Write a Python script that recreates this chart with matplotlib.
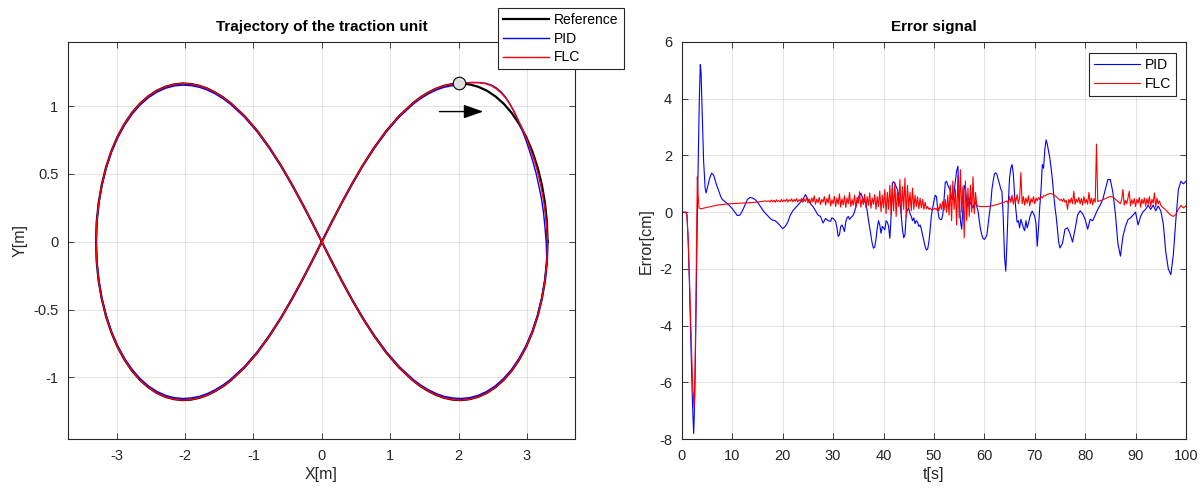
import numpy as np
import matplotlib
matplotlib.use('Agg')
from matplotlib import pyplot as plt

plt.rcParams['font.family'] = ['Liberation Sans', 'DejaVu Sans']
plt.rcParams['axes.unicode_minus'] = False

# ---- trajectory, one quarter of the figure-eight (tip -> centre) ----
ref_qx = [3.300, 3.291, 3.263, 3.217, 3.155, 3.078, 2.988, 2.886, 2.776, 2.659, 2.538, 2.413, 2.286, 2.160,
          2.034, 1.910, 1.789, 1.671, 1.556, 1.444, 1.337, 1.133, 0.943, 0.766, 0.599, 0.442, 0.291, 0.144, 0.000]
ref_qy = [0.000, 0.144, 0.284, 0.420, 0.548, 0.666, 0.773, 0.868, 0.950, 1.018, 1.072, 1.114, 1.143, 1.160,
          1.167, 1.163, 1.150, 1.129, 1.100, 1.065, 1.024, 0.928, 0.817, 0.694, 0.563, 0.427, 0.287, 0.144, 0.000]
# PID runs a little inside the reference
pid_qx = [3.300, 3.290, 3.261, 3.214, 3.151, 3.074, 2.984, 2.882, 2.772, 2.656, 2.535, 2.410, 2.284, 2.158,
          2.033, 1.909, 1.788, 1.670, 1.556, 1.444, 1.337, 1.133, 0.943, 0.766, 0.599, 0.442, 0.291, 0.144, 0.000]
pid_qy = [0.000, 0.143, 0.282, 0.416, 0.543, 0.660, 0.766, 0.860, 0.941, 1.008, 1.062, 1.103, 1.132, 1.149,
          1.155, 1.151, 1.139, 1.118, 1.090, 1.055, 1.015, 0.920, 0.810, 0.688, 0.558, 0.423, 0.284, 0.143, 0.000]

# start transients (start point -> right tip)
pid_start_x = [2.00, 2.10, 2.20, 2.30, 2.40, 2.48, 2.55, 2.62, 2.68, 2.74, 2.80, 2.86, 2.92, 2.98, 3.03,
               3.08, 3.13, 3.17, 3.21, 3.24, 3.26, 3.28]
pid_start_y = [1.170, 1.172, 1.174, 1.174, 1.168, 1.155, 1.135, 1.105, 1.070, 1.025, 0.970, 0.905, 0.835,
               0.755, 0.680, 0.600, 0.510, 0.420, 0.320, 0.220, 0.120, 0.000]
flc_start_x = [2.00, 2.10, 2.20, 2.30, 2.40, 2.48, 2.55, 2.62, 2.68, 2.74, 2.80, 2.86, 2.92, 2.98, 3.04,
               3.10, 3.15, 3.20, 3.24, 3.27, 3.29, 3.30]
flc_start_y = [1.170, 1.172, 1.174, 1.173, 1.165, 1.150, 1.128, 1.098, 1.065, 1.022, 0.970, 0.910, 0.845,
               0.775, 0.695, 0.610, 0.525, 0.420, 0.310, 0.200, 0.100, 0.000]

start_pt = (2.0, 1.17)

# ---- error signal [cm] ----
pid_t0 = [0, 0.8, 1.0, 1.24, 1.5, 1.8, 2.1, 2.33, 2.55, 2.8, 2.98, 3.2, 3.45, 3.64, 3.8, 4.0, 4.3, 4.6,
          4.8, 5.1, 5.5, 5.9, 6.3, 6.8, 7.2, 7.7, 8.0]
pid_e0 = [0, 0, -0.1, -1.0, -2.6, -4.8, -6.8, -7.8, -6.5, -3.5, -1.0, 1.5, 4.0, 5.2, 4.9, 3.6, 1.8, 0.85,
          0.68, 0.9, 1.2, 1.38, 1.3, 1.0, 0.8, 0.55, 0.45]
# t = 8.5 .. 29.5 every 0.5 s
pid_e1 = [0.38, 0.30, 0.22, 0.12, 0.00, -0.12, -0.10, 0.05, 0.25, 0.45, 0.52, 0.50, 0.45, 0.35, 0.22, 0.08,
          -0.03, -0.12, -0.22, -0.28, -0.30, -0.38, -0.48, -0.58, -0.50, -0.35, -0.10, 0.05, 0.15, 0.25, 0.35,
          0.45, 0.62, 0.45, 0.30, 0.20, 0.05, -0.10, -0.15, -0.38, -0.22, -0.30, -0.32]
# t = 29.75 .. 75.0 every 0.25 s
pid_e2 = [-0.20,
          -0.22, -0.27, -0.33, -0.55, -0.85, -0.80, -0.50, -0.45, -0.55, -0.68, -0.35, -0.20,
          -0.15, -0.25, -0.20, -0.15, -0.10, 0.02, 0.20, 0.35, 0.52, 0.60, 0.67, 0.55,
          0.45, 0.38, 0.30, 0.05, -0.27, -0.55, -0.85, -1.10, -1.27, -1.22, -0.95, -0.55,
          -0.30, -0.45, -0.74, -0.50, -0.55, -0.62, -0.30, -0.35, -0.50, -0.92, -0.15, 1.02,
          1.08, 1.00, 0.90, 0.80, 0.60, 0.30, -0.10, -0.60, -0.90, -0.80, -0.10, 0.10,
          0.14, -0.05, -0.15, -0.30, -0.20, -0.40, -0.30, -0.35, -0.50, -0.45, -0.60, -0.80,
          -1.00, -1.21, -1.33, -1.30, -1.05, -0.60, -0.10, 0.15, 0.40, 0.60, 0.55, 0.10,
          -0.20, -0.25, -0.26, -0.10, 0.45, 1.05, 1.09, 0.95, 0.86, 0.75, 0.50, 0.45,
          0.70, 1.10, 1.45, 1.62, 0.70, -0.30, -0.60, 0.10, 0.95, 0.80, 0.40, 0.20,
          0.50, 0.30, 0.25, 0.15, 0.30, 0.35, 0.20, 0.05, -0.32, -0.60, -0.80, -0.92,
          -0.96, -0.90, -0.79, -0.45, -0.05, 0.25, 0.80, 1.10, 1.35, 1.39, 1.33, 1.15,
          1.00, 0.82, 0.72, -0.20, -1.55, -2.08, -1.00, 0.30, 1.20, 1.55, 1.68, 1.35,
          0.60, 0.10, -0.35, -0.30, -0.55, -0.25, -0.40, -0.55, -0.65, -0.30, -0.55, -0.40,
          -0.20, -0.05, 0.04, -0.05, -0.15, -0.40, -1.20, -0.55, 0.20, 0.80, 1.68, 1.55,
          2.20, 2.55, 2.39, 2.15, 1.90, 1.55, 1.15, 0.65, 0.20, -0.15, -0.61, -1.05,
          -1.26]
# t = 75.5 .. 100 every 0.5 s
pid_e3 = [-1.10, -0.60, -0.55, -0.75, -1.05, -0.60, -0.10, 0.05, -0.05, -0.25,
          -0.60, -0.25, -0.30, -0.10, 0.10, 0.25, 0.45, 0.80, 1.15, 1.15,
          0.70, -0.05, -1.10, -1.55, -0.85, -0.50, -0.26, -0.20, -0.10, 0.00,
          -0.45, -0.15, 0.02, 0.10, 0.25, 0.10, 0.25, 0.05, 0.22, 0.05,
          -0.40, -1.40, -2.00, -2.20, -1.50, -0.26, 0.80, 1.09, 1.00, 1.09]

flc_t0 = [0, 0.8, 1.0, 1.24, 1.5, 1.8, 2.1, 2.4, 2.6, 2.8, 2.9, 3.05, 3.2, 3.4, 3.7]
flc_e0 = [0, 0, -0.1, -1.0, -2.4, -4.2, -6.0, -6.9, -5.5, -2.8, -1.0, 1.25, 0.6, 0.15, 0.12]
# smooth part, t = 4.0 .. 17.0 every 0.5 s
flc_e1 = [0.13, 0.15, 0.17, 0.19, 0.21, 0.23, 0.25, 0.26, 0.27, 0.28, 0.29, 0.30, 0.30, 0.31, 0.31,
          0.32, 0.32, 0.33, 0.33, 0.34, 0.34, 0.35, 0.36, 0.37, 0.38, 0.40, 0.38]
# noisy part, t = 17.25 .. 59.0 every 0.25 s
flc_e2 = [0.40, 0.36, 0.43, 0.37, 0.42, 0.35, 0.44, 0.38, 0.41, 0.36, 0.45, 0.37, 0.43, 0.38, 0.46, 0.36, 0.44, 0.39, 0.47, 0.37,
          0.45, 0.38, 0.48, 0.36, 0.44, 0.40, 0.49, 0.35, 0.46, 0.38, 0.52, 0.33, 0.47, 0.30, 0.50, 0.36, 0.58, 0.28, 0.46, 0.34,
          0.52, 0.27, 0.45, 0.35, 0.55, 0.25, 0.48, 0.32, 0.62, 0.22, 0.44, 0.30, 0.56, 0.20, 0.50, 0.28, 0.65, 0.18, 0.47, 0.26,
          0.58, 0.17, 0.50, 0.30, 0.70, 0.20, 0.45, 0.25, 0.60, 0.15, 0.52, 0.32, 0.72, 0.18, 0.48, 0.27, 0.63, 0.16, 0.55, 0.24,
          0.68, 0.14, 0.50, 0.28, 0.62, 0.10, 0.55, 0.20, 0.75, 0.02, 0.60, 0.15, 0.80, -0.05, 0.70, 0.10, 0.95, -0.10, 0.85, 0.05,
          1.05, -0.15, 0.75, 0.20, 1.15, -0.05, 0.90, 0.10, 1.20, -0.18, 0.95, 0.15, 0.70, 0.05, 0.85, 0.10, 0.60, 0.20, 0.55, 0.12,
          0.50, 0.15, 0.45, 0.10, 0.35, 0.12, 0.20, 0.10, 0.15, 0.08, 0.12, 0.10, 0.14, 0.08, 0.20, 0.05, 0.30, 0.10, 0.38, 0.06,
          0.45, 0.00, 0.60, -0.10, 0.95, -0.30, 1.10, 0.10, 0.80, -0.45, 1.30, -0.20, 1.50, 0.00, 0.90, -0.90, 1.10, -0.30, 0.85, -0.15,
          0.95, 0.00, 1.25, -0.05, 0.70, 0.25, 0.22, 0.20]
# calm, t = 59.5 .. 62.0 every 0.5 s
flc_e3 = [0.20, 0.20, 0.20, 0.21, 0.22, 0.25]
# t = 62.25 .. 95.0 every 0.25 s
flc_e4 = [0.26, 0.27, 0.28, 0.30, 0.31, 0.33, 0.34, 0.36, 0.38, 0.40, 0.30, 0.55, 0.35, 0.60, 0.28, 0.52, 0.38, 0.62, 0.30, 0.50,
          1.40, 0.30, 0.55, 0.25, 0.50, 0.32, 0.58, 0.22, 0.48, 0.35, 0.55, 0.30, 0.50, 0.40, 0.52, 0.45, 0.55, 0.50, 0.58, 0.57,
          0.60, 0.63, 0.64, 0.66, 0.66, 0.64, 0.62, 0.58, 0.55, 0.50, 0.47, 0.42, 0.45, 0.38, 0.48, 0.35, 0.42, 0.10, 0.45, 0.33,
          0.50, 0.30, 0.74, 0.28, 0.46, 0.35, 0.52, 0.30, 0.48, 0.25, 0.55, 0.32, 0.45, 0.28, 0.70, 0.30, 0.50, 0.26, 0.48, 0.35,
          2.40, 0.38, 0.40, 0.40, 0.42, 0.44, 0.46, 0.48, 0.50, 0.52, 0.54, 0.55, 0.55, 0.53, 0.50, 0.46, 0.42, 0.38, 0.34, 0.30,
          0.45, 0.80, 0.25, 0.42, 0.30, 0.50, 0.74, 0.22, 0.44, 0.30, 0.48, 0.20, 0.45, 0.32, 0.52, 0.18, 0.46, 0.30, 0.50, 0.22,
          0.48, 0.28, 0.55, 0.20, 0.45, 0.32, 0.68, 0.18, 0.50, 0.30, 0.40, 0.25]
# end, t = 95.5 .. 100 every 0.5 s
flc_e5 = [0.15, 0.08, -0.02, -0.10, -0.15, -0.08, 0.10, 0.24, 0.15, 0.22]


def full_loop(qx, qy, first=0, last=None):
    # lower right, upper left, lower left, back up the upper right
    qx, qy = np.asarray(qx), np.asarray(qy)
    back = slice(None, None, -1) if last is None else slice(None, last - 1, -1)
    xs = np.concatenate([qx[first:], -qx[::-1], -qx, qx[back]])
    ys = np.concatenate([-qy[first:], qy[::-1], -qy, qy[back]])
    return xs, ys


ref_x, ref_y = full_loop(ref_qx, ref_qy)
px, py = full_loop(pid_qx, pid_qy, first=1, last=14)
pid_x = np.concatenate([pid_start_x, px])
pid_y = np.concatenate([pid_start_y, py])
fx, fy = full_loop(ref_qx, ref_qy, first=1, last=14)
flc_x = np.concatenate([flc_start_x, fx])
flc_y = np.concatenate([flc_start_y, fy])


def samples(t_start, step, vals):
    return t_start + step * np.arange(len(vals))


pid_t = np.concatenate([pid_t0, samples(8.5, 0.5, pid_e1), samples(29.75, 0.25, pid_e2),
                        samples(75.5, 0.5, pid_e3)])
pid_err = np.concatenate([pid_e0, pid_e1, pid_e2, pid_e3])
flc_t = np.concatenate([flc_t0, samples(4.0, 0.5, flc_e1), samples(17.25, 0.25, flc_e2),
                        samples(59.5, 0.5, flc_e3), samples(62.25, 0.25, flc_e4), samples(95.5, 0.5, flc_e5)])
flc_err = np.concatenate([flc_e0, flc_e1, flc_e2, flc_e3, flc_e4, flc_e5])

dark = (0.15, 0.15, 0.15)


def style(ax):
    ax.grid(True, color=dark, alpha=0.15, linewidth=0.6)
    ax.set_axisbelow(True)
    ax.tick_params(direction='in', top=True, right=True, length=4, width=0.6,
                   colors=dark, labelsize=10.5, pad=7)
    for s in ax.spines.values():
        s.set_color(dark)
        s.set_linewidth(0.8)


fig = plt.figure(figsize=(12.04, 4.88), dpi=100)

ax1 = fig.add_axes([0.0565, 0.100, 0.421, 0.814])
ax1.plot(ref_x, ref_y, color='k', linewidth=1.6, label='Reference')
ax1.plot(pid_x, pid_y, color='b', linewidth=1.0, label='PID')
ax1.plot(flc_x, flc_y, color='r', linewidth=1.0, label='FLC')
ax1.plot(*start_pt, 'o', markersize=9, markerfacecolor='0.88', markeredgecolor='k',
         markeredgewidth=0.8, zorder=5)
ax1.annotate('', xy=(2.36, 0.96), xytext=(1.72, 0.96),
             arrowprops=dict(arrowstyle='-|>,head_length=1.2,head_width=0.42',
                             color='k', linewidth=1.0, shrinkA=0, shrinkB=0))
ax1.set_xlim(-3.71, 3.70)
ax1.set_ylim(-1.455, 1.473)
ax1.set_xticks([-3, -2, -1, 0, 1, 2, 3])
ax1.set_yticks([-1, -0.5, 0, 0.5, 1])
ax1.set_yticklabels(['-1', '-0.5', '0', '0.5', '1'])
style(ax1)
ax1.set_title('Trajectory of the traction unit', fontsize=11, fontweight='bold', color='k', pad=8)
ax1.set_xlabel('X[m]', fontsize=11.5, color=dark, labelpad=3)
ax1.set_ylabel('Y[m]', fontsize=11.5, color=dark, labelpad=4)
leg1 = ax1.legend(loc='upper right', bbox_to_anchor=(0.518, 0.984), bbox_transform=fig.transFigure,
                  fontsize=10, fancybox=False, framealpha=1, edgecolor=dark, handlelength=3.3,
                  labelspacing=0.35, borderpad=0.35, handletextpad=0.4, borderaxespad=0)
leg1.get_frame().set_linewidth(0.8)

ax2 = fig.add_axes([0.5664, 0.100, 0.4186, 0.814])
ax2.plot(pid_t, pid_err, color='b', linewidth=0.8, label='PID')
ax2.plot(flc_t, flc_err, color='r', linewidth=0.8, label='FLC')
ax2.set_xlim(0, 100)
ax2.set_ylim(-8, 6)
ax2.set_xticks(range(0, 101, 10))
ax2.set_yticks(range(-8, 7, 2))
style(ax2)
ax2.set_title('Error signal', fontsize=11, fontweight='bold', color='k', pad=8)
ax2.set_xlabel('t[s]', fontsize=11.5, color=dark, labelpad=3)
ax2.set_ylabel('Error[cm]', fontsize=11.5, color=dark, labelpad=4)
leg2 = ax2.legend(loc='upper right', bbox_to_anchor=(0.981, 0.971), fontsize=10, fancybox=False,
                  framealpha=1, edgecolor=dark, handlelength=3.3, labelspacing=0.35,
                  borderpad=0.35, handletextpad=0.4, borderaxespad=0)
leg2.get_frame().set_linewidth(0.8)

fig.savefig('out.png', dpi=100)
